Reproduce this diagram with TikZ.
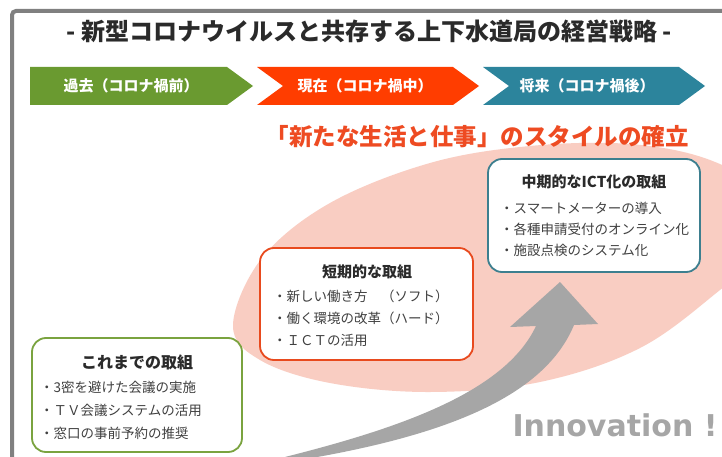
\documentclass[tikz,border=0pt]{standalone}
\usepackage{fontspec}
\newfontfamily\jp{Noto Sans CJK JP}
\newfontfamily\lat{DejaVu Sans}
\definecolor{framegray}{HTML}{808080}
\definecolor{cgreen}{HTML}{6A9A30}
\definecolor{cred}{HTML}{FF3D00}
\definecolor{cblue}{HTML}{2C849C}
\definecolor{pinkbg}{HTML}{F9CDC2}
\definecolor{subred}{HTML}{EE4B22}
\definecolor{bgreen}{HTML}{7AA33F}
\definecolor{bred}{HTML}{E84A1E}
\definecolor{bteal}{HTML}{3D7F8F}
\definecolor{arrowgray}{HTML}{A6A6A6}
\definecolor{itemgray}{HTML}{404040}
\definecolor{titlegray}{HTML}{2A2A2A}
\tikzset{
  chevlabel/.style={font=\jp\bfseries\fontsize{15}{18}\selectfont, text=white, inner sep=0},
  boxshape/.style={draw, line width=1.8pt, fill=white, rounded corners=14pt, inner sep=0},
  boxtitle/.style={font=\jp\bfseries\fontsize{15}{18}\selectfont, text=titlegray, inner sep=0},
  itemline/.style={font=\jp\fontsize{13.5}{16}\selectfont, text=itemgray, anchor=west, inner sep=0}
}
\begin{document}
\begin{tikzpicture}[x=1pt,y=-1pt]
\useasboundingbox (0,0) rectangle (722,457);
\clip (0,0) rectangle (722,457);
\fill[white] (0,0) rectangle (722,457);
\draw[framegray, line width=4pt, rounded corners=4pt] (12,11) rectangle (770,490);

% title
\node[font=\jp\bfseries\fontsize{24}{28}\selectfont, text=titlegray, inner sep=0] (title) at (369,31)
  {- 新型コロナウイルスと共存する上下水道局の経営戦略 -};

% chevrons
\fill[cgreen] (30,67) -- (227,67) -- (253,86) -- (227,105) -- (30,105) -- cycle;
\fill[cred] (257,67) -- (453,67) -- (479,86) -- (453,105) -- (257,105) -- (283,86) -- cycle;
\fill[cblue] (483,67) -- (679,67) -- (705,86) -- (679,105) -- (483,105) -- (509,86) -- cycle;
\node[chevlabel] (past) at (131,86) {過去（コロナ禍前）};
\node[chevlabel] (now) at (365,86) {現在（コロナ禍中）};
\node[chevlabel] (future) at (587,86) {将来（コロナ禍後）};

% pink ellipse-like region
\fill[pinkbg] plot[smooth cycle, tension=0.6] coordinates {(233,325) (262,258) (330,203) (430,163) (530,146) (630,144) (710,160) (765,195) (770,245) (720,290) (640,348) (540,382) (430,392) (330,383) (260,360)};

% subtitle
\node[font=\jp\bfseries\fontsize{23.5}{28}\selectfont, text=subred, inner sep=0] (style) at (477,137)
  {「新たな生活と仕事」のスタイルの確立};

% grey arrow
\fill[arrowgray] (285,457) .. controls (400,428) and (505,392) .. (536,326)
  -- (510,327) -- (560,282) -- (598,324) -- (574,325)
  .. controls (545,395) and (450,435) .. (300,460) -- cycle;

% boxes
\node[boxshape, draw=bgreen, minimum width=210pt, minimum height=114pt] (box1) at (137,395) {};
\node[boxshape, draw=bred, minimum width=213pt, minimum height=112pt] (box2) at (366.5,304) {};
\node[boxshape, draw=bteal, minimum width=212pt, minimum height=113pt] (box3) at (594,215.5) {};

\node[boxtitle, font=\jp\bfseries\fontsize{16}{18}\selectfont] (t1) at (137,362) {これまでの取組};
\node[itemline] (b1a) at (40,387) {・3密を避けた会議の実施};
\node[itemline] (b1b) at (40,410) {・ＴＶ会議システムの活用};
\node[itemline] (b1c) at (40,433) {・窓口の事前予約の推奨};

\node[boxtitle] (t2) at (367,272) {短期的な取組};
\node[itemline] (b2a) at (273,296) {・新しい働き方　（ソフト）};
\node[itemline] (b2b) at (273,318) {・働く環境の改革（ハード）};
\node[itemline] (b2c) at (273,340) {・ＩＣＴの活用};

\node[boxtitle] (t3) at (594,182) {中期的なICT化の取組};
\node[itemline] (b3a) at (500,208) {・スマートメーターの導入};
\node[itemline] (b3b) at (500,229) {・各種申請受付のオンライン化};
\node[itemline] (b3c) at (500,250) {・施設点検のシステム化};

% Innovation
\node[font=\lat\bfseries\fontsize{30}{34}\selectfont, text=arrowgray, inner sep=0] (innov) at (615,425) {Innovation !};
\end{tikzpicture}
\end{document}
